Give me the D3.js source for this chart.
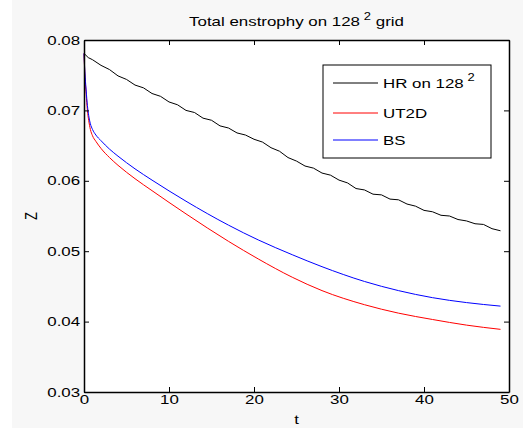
<!DOCTYPE html>
<html>
<head>
<meta charset="utf-8">
<script src="https://cdn.jsdelivr.net/npm/d3@7"></script>
<style>
  body { margin: 0; background: #fff; }
  svg { display: block; font-family: "Liberation Sans", Arial, sans-serif; }
</style>
</head>
<body>
<div id="chart"></div>
<script>
// data
let hrT = [0, 0.5, 1, 2, 3, 4, 5, 6, 7, 8, 9, 10, 11, 12, 13, 14, 15, 16, 17, 18, 19, 20, 21, 22, 23, 24, 25,
  26, 27, 28, 29, 30, 31, 32, 33, 34, 35, 36, 37, 38, 39, 40, 41, 42, 43, 44, 45, 46, 47, 48, 49]
let hrZ = [0.0781, 0.0775, 0.0772, 0.0764, 0.0758, 0.0749, 0.0744, 0.0736, 0.0732, 0.0724, 0.0720, 0.0712,
  0.0708, 0.0700, 0.0697, 0.0689, 0.0686, 0.0678, 0.0675, 0.0668, 0.0665, 0.0659, 0.0655, 0.0647, 0.0642,
  0.0633, 0.0628, 0.0621, 0.0618, 0.0611, 0.0608, 0.0601, 0.0597, 0.0589, 0.0587, 0.0581, 0.0580, 0.0574,
  0.0573, 0.0567, 0.0564, 0.0558, 0.0556, 0.0551, 0.0550, 0.0545, 0.0543, 0.0539, 0.0538, 0.0532, 0.0529]

let smT = [0, 0.1, 0.25, 0.4, 0.55, 0.75, 1, 1.4, 2, 3, 4, 6, 8, 12, 17, 20.5, 24.5, 28, 33, 37, 41, 45, 49]
let ut2dZ = [0.0781, 0.0752, 0.0724, 0.0700, 0.0686, 0.0673, 0.0664, 0.0656, 0.0646, 0.0633, 0.0622, 0.0603,
  0.0586, 0.0553, 0.0514, 0.0489, 0.0463, 0.0444, 0.0424, 0.0412, 0.0403, 0.0395, 0.0389]
let bsZ = [0.0781, 0.0755, 0.0729, 0.0707, 0.0693, 0.0681, 0.0673, 0.0665, 0.0657, 0.0645, 0.0635, 0.0617,
  0.0601, 0.0571, 0.0537, 0.0516, 0.0495, 0.0478, 0.0457, 0.0444, 0.0434, 0.0427, 0.0422]

let xTicks = [0, 10, 20, 30, 40, 50]
let yTicks = [0.03, 0.04, 0.05, 0.06, 0.07, 0.08]

let series = [
  { name: "HR on 128", sup: "2", t: hrT, z: hrZ, color: "#000000" },
  { name: "UT2D", sup: "", t: smT, z: ut2dZ, color: "#ff0000" },
  { name: "BS", sup: "", t: smT, z: bsZ, color: "#0000ff" }
]

let width = 523
let height = 428
let margin = { top: 40, right: 14, bottom: 36, left: 84 }
let plotW = width - margin.left - margin.right
let plotH = height - margin.top - margin.bottom
// the reference text is stretched sideways
let sx = 1.3

let svg = d3.select("#chart").append("svg")
  .attr("width", width)
  .attr("height", height)

// figure background
svg.append("rect").attr("x", 12).attr("y", 0)
  .attr("width", width - 12).attr("height", height)
  .attr("fill", "#f7f7f7")

let g = svg.append("g")
  .attr("transform", "translate(" + margin.left + "," + margin.top + ")")

g.append("rect").attr("width", plotW).attr("height", plotH).attr("fill", "#fff")

let xScale = d3.scaleLinear().domain([0, 50]).range([0, plotW])
let yScale = d3.scaleLinear().domain([0.03, 0.08]).range([plotH, 0])

// lines
let line = d3.line()
  .x(function (d) { return xScale(d[0]) })
  .y(function (d) { return yScale(d[1]) })

series.forEach(function (s, i) {
  let pts = s.t.map(function (t, j) { return [t, s.z[j]] })
  g.append("path")
    .datum(pts)
    .attr("fill", "none")
    .attr("stroke", s.color)
    .attr("stroke-width", 1)
    .attr("d", line.curve(i == 0 ? d3.curveLinear : d3.curveMonotoneX))
})

// axes, ticks inward like matlab
function styleAxis(sel) {
  sel.selectAll(".domain").attr("stroke", "#000").attr("stroke-width", 1.5)
  sel.selectAll(".tick line").attr("stroke", "#000").attr("stroke-width", 1)
  sel.selectAll("text").attr("font-size", "13px").attr("fill", "#000")
    .attr("font-family", "Liberation Sans, Arial, sans-serif")
    .attr("transform", "scale(" + sx + ",1)")
}

g.append("g").attr("transform", "translate(0," + plotH + ")")
  .call(d3.axisBottom(xScale).tickValues(xTicks).tickSizeInner(-5).tickSizeOuter(0).tickPadding(3))
  .call(styleAxis)
g.append("g")
  .call(d3.axisTop(xScale).tickValues(xTicks).tickSizeInner(-5).tickSizeOuter(0).tickFormat(""))
  .call(styleAxis)
g.append("g")
  .call(d3.axisLeft(yScale).tickValues(yTicks).tickSizeInner(-5).tickSizeOuter(0).tickPadding(3)
    .tickFormat(d3.format(".2f")))
  .call(styleAxis)
g.append("g").attr("transform", "translate(" + plotW + ",0)")
  .call(d3.axisRight(yScale).tickValues(yTicks).tickSizeInner(-5).tickSizeOuter(0).tickFormat(""))
  .call(styleAxis)

// title
let title = svg.append("text")
  .attr("x", (margin.left + plotW / 2) / sx)
  .attr("y", 26)
  .attr("transform", "scale(" + sx + ",1)")
  .attr("text-anchor", "middle")
  .attr("font-size", "13px")
title.append("tspan").text("Total enstrophy on 128")
title.append("tspan").attr("dy", -6).attr("dx", 3).attr("font-size", "10px").text("2")
title.append("tspan").attr("dy", 6).text(" grid")

// axis labels
svg.append("text")
  .attr("x", (margin.left + plotW / 2) / sx)
  .attr("y", height - 4)
  .attr("transform", "scale(" + sx + ",1)")
  .attr("text-anchor", "middle")
  .attr("font-size", "13px")
  .text("t")
svg.append("text")
  .attr("transform", "translate(37,216) rotate(-90) scale(1," + sx + ")")
  .attr("text-anchor", "middle")
  .attr("font-size", "13px")
  .text("Z")

// legend
let legend = svg.append("g").attr("transform", "translate(323,65)")
legend.append("rect")
  .attr("width", 168).attr("height", 93)
  .attr("fill", "#fff").attr("stroke", "#000").attr("stroke-width", 1)
let rowY = [18, 48, 75]
series.forEach(function (s, i) {
  legend.append("line")
    .attr("x1", 10).attr("x2", 55)
    .attr("y1", rowY[i]).attr("y2", rowY[i])
    .attr("stroke", s.color).attr("stroke-width", 1)
  let txt = legend.append("text")
    .attr("x", 60 / sx).attr("y", rowY[i] + 5)
    .attr("transform", "scale(" + sx + ",1)")
    .attr("font-size", "13px")
  txt.append("tspan").text(s.name)
  if (s.sup) {
    txt.append("tspan").attr("dy", -7).attr("dx", 3).attr("font-size", "10px").text(s.sup)
  }
})
</script>
</body>
</html>
